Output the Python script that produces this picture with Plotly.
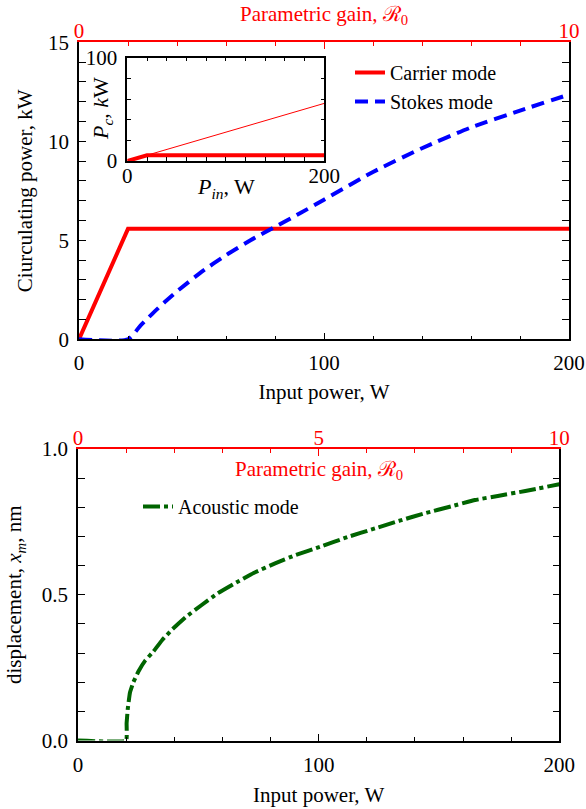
import plotly.graph_objects as go

# ---------------- data ----------------
P_carrier = [0, 20, 200]
carrier_kW = [0, 5.58, 5.58]

P_stokes = [0, 20, 25, 30, 35, 40, 50, 60, 70, 80, 90, 100, 120, 140, 160, 180, 200]
stokes_kW = [0, 0, 0.68, 1.30, 1.88, 2.42, 3.40, 4.25, 5.00, 5.68, 6.35, 7.05, 8.45, 9.65, 10.70, 11.55, 12.36]

P_inset_lin = [0, 200]
inset_linear_kW = [0, 55.8]

P_acoustic = [0, 20, 20.2, 20.7, 21.6, 23, 25.1, 28, 31.3, 35, 39, 45, 51.4, 58, 65.3, 73, 81.9,
              90, 100.6, 112, 123.5, 134, 144.3, 155, 165, 175, 185.9, 200]
acoustic_nm = [0, 0, 0.06, 0.11, 0.165, 0.20, 0.237, 0.275, 0.305, 0.345, 0.38, 0.425, 0.465, 0.505,
               0.54, 0.575, 0.608, 0.635, 0.665, 0.698, 0.728, 0.755, 0.78, 0.803, 0.825, 0.84, 0.856, 0.879]

gain_range = [0, 10]          # parametric gain axis range (top axes)
x_tick_vals = [0, 100, 200]
x_tick_text = ["0", "100", "200"]
y1_tick_vals = [0, 5, 10, 15]
gain_tick_vals = [0, 5, 10]
gain_tick_text_top = ["0", "", "10"]
gain_tick_text_bottom = ["0", "5", "10"]
y4_tick_vals = [0, 0.5, 1.0]
y4_tick_text = ["0.0", "0.5", "1.0"]

# ---------------- layout helpers ----------------
W, H = 586, 809
def fx(p):
    return p / W
def fy(p):
    return 1 - p / H

FONT = "Liberation Serif, 'Times New Roman', 'DejaVu Serif', serif"
RED = "#ff0000"
BLUE = "#0000ff"
GREEN = "#006400"
FS = 21

fig = go.Figure()

fig.add_trace(go.Scatter(x=P_carrier, y=carrier_kW, mode="lines", name="Carrier mode",
                         line=dict(color=RED, width=4), xaxis="x", yaxis="y", legend="legend"))
fig.add_trace(go.Scatter(x=P_stokes, y=stokes_kW, mode="lines", name="Stokes mode",
                         line=dict(color=BLUE, width=4, dash="13px,7px", shape="spline", smoothing=0.6),
                         xaxis="x", yaxis="y", legend="legend"))
fig.add_trace(go.Scatter(x=P_inset_lin, y=inset_linear_kW, mode="lines", showlegend=False,
                         line=dict(color=RED, width=1), xaxis="x3", yaxis="y3"))
fig.add_trace(go.Scatter(x=P_carrier, y=carrier_kW, mode="lines", showlegend=False,
                         line=dict(color=RED, width=4), xaxis="x3", yaxis="y3"))
fig.add_trace(go.Scatter(x=P_acoustic, y=acoustic_nm, mode="lines", name="Acoustic mode",
                         line=dict(color=GREEN, width=4, dash="17px,4px,4px,4px", shape="spline", smoothing=0.3),
                         xaxis="x4", yaxis="y4", legend="legend2"))
# invisible helpers so that the red parametric-gain axes are drawn
fig.add_trace(go.Scatter(x=gain_range, y=[None, None], mode="lines", showlegend=False,
                         hoverinfo="skip", xaxis="x2", yaxis="y"))
fig.add_trace(go.Scatter(x=gain_range, y=[None, None], mode="lines", showlegend=False,
                         hoverinfo="skip", xaxis="x5", yaxis="y4"))

common = dict(showgrid=False, zeroline=False, showline=True, linewidth=1.5, ticks="inside",
              automargin=False,
              tickfont=dict(family=FONT, size=FS, color="black"), ticklabelstandoff=4)
red_common = {**common, "tickfont": dict(family=FONT, size=FS, color=RED), "ticklabelstandoff": -6}
inset_x_common = {**common, "ticklabelstandoff": -5}

top_dom_x = [fx(79), fx(569)]
top_dom_y = [fy(339.3), fy(42.3)]
bot_dom_x = [fx(78), fx(559.3)]
bot_dom_y = [fy(740.6), fy(449)]
ins_dom_x = [fx(127.3), fx(324.3)]
ins_dom_y = [fy(161), fy(57.7)]

fig.update_layout(
    template="none",
    width=W, height=H, margin=dict(l=0, r=0, t=0, b=0, autoexpand=False),
    paper_bgcolor="white", plot_bgcolor="white",
    font=dict(family=FONT, size=FS, color="black"),
    showlegend=True,
    xaxis=dict(domain=top_dom_x, anchor="y", range=[0, 200], tickmode="array",
               tickvals=x_tick_vals, ticktext=x_tick_text, ticklen=7, linecolor="black",
               tickcolor="black",
               minor=dict(dtick=20, ticks="inside", ticklen=4, tickcolor="black"),
               title=dict(text="Input power, W", font=dict(family=FONT, size=FS), standoff=10),
               **common),
    xaxis2=dict(overlaying="x", anchor="y", side="top", range=gain_range, tickmode="array",
                tickvals=gain_tick_vals, ticktext=gain_tick_text_top, ticklen=7,
                linecolor=RED, tickcolor=RED,
                minor=dict(dtick=1, ticks="inside", ticklen=4, tickcolor=RED),
                **red_common),
    yaxis=dict(domain=top_dom_y, anchor="x", range=[0, 15], tickmode="array",
               tickvals=y1_tick_vals, ticklen=7, linecolor="black", tickcolor="black",
               mirror="allticks",
               minor=dict(dtick=1, ticks="inside", ticklen=4, tickcolor="black"),
               title=dict(text="Ciurculating power, kW", font=dict(family=FONT, size=FS), standoff=10),
               **common),
    xaxis3=dict(domain=ins_dom_x, anchor="y3", range=[0, 200], tickmode="array",
                tickvals=[0, 200], ticktext=["0", "200"], ticklen=4, linecolor="black",
                tickcolor="black", mirror="allticks",
                minor=dict(dtick=20, ticks="inside", ticklen=4, tickcolor="black"),
                **inset_x_common),
    yaxis3=dict(domain=ins_dom_y, anchor="x3", range=[0, 100], tickmode="array",
                tickvals=[0, 100], ticktext=["0", "100"], ticklen=4, linecolor="black",
                tickcolor="black", mirror="allticks",
                minor=dict(dtick=20, ticks="inside", ticklen=4, tickcolor="black"),
                **common),
    xaxis4=dict(domain=bot_dom_x, anchor="y4", range=[0, 200], tickmode="array",
                tickvals=x_tick_vals, ticktext=x_tick_text, ticklen=7, linecolor="black",
                tickcolor="black",
                minor=dict(dtick=20, ticks="inside", ticklen=4, tickcolor="black"),
                title=dict(text="Input power, W", font=dict(family=FONT, size=FS), standoff=12),
                **common),
    xaxis5=dict(overlaying="x4", anchor="y4", side="top", range=gain_range, tickmode="array",
                tickvals=gain_tick_vals, ticktext=gain_tick_text_bottom, ticklen=7,
                linecolor=RED, tickcolor=RED,
                minor=dict(dtick=1, ticks="inside", ticklen=4, tickcolor=RED),
                **red_common),
    yaxis4=dict(domain=bot_dom_y, anchor="x4", range=[0, 1.0], tickmode="array",
                tickvals=y4_tick_vals, ticktext=y4_tick_text, ticklen=7, linecolor="black",
                tickcolor="black", mirror="allticks",
                minor=dict(dtick=0.1, ticks="inside", ticklen=4, tickcolor="black"),
                title=dict(text="displacement, <i>x<sub>m</sub></i>, nm",
                           font=dict(family=FONT, size=FS), standoff=14),
                **common),
    legend=dict(x=fx(350), y=fy(53), xanchor="left", yanchor="top", bgcolor="rgba(0,0,0,0)",
                font=dict(family=FONT, size=20), tracegroupgap=0, borderwidth=0),
    legend2=dict(x=fx(138), y=fy(487), xanchor="left", yanchor="top", bgcolor="rgba(0,0,0,0)",
                 font=dict(family=FONT, size=20), borderwidth=0),
    annotations=[
        dict(text="Parametric gain, ℛ<sub>0</sub>", xref="paper", yref="paper",
             x=fx(324), y=fy(15), showarrow=False, xanchor="center", yanchor="middle",
             font=dict(family=FONT, size=FS, color=RED)),
        dict(text="Parametric gain, ℛ<sub>0</sub>", xref="paper", yref="paper",
             x=fx(318.5), y=fy(470), showarrow=False, xanchor="center", yanchor="middle",
             font=dict(family=FONT, size=FS, color=RED)),
        dict(text="<i>P<sub>in</sub></i>, W", xref="paper", yref="paper",
             x=fx(226), y=fy(188), showarrow=False, xanchor="center", yanchor="middle",
             font=dict(family=FONT, size=22, color="black")),
        dict(text="<i>P<sub>c</sub></i>, <i>k</i>W", xref="paper", yref="paper",
             x=fx(102), y=fy(109), showarrow=False, xanchor="center", yanchor="middle",
             textangle=-90, font=dict(family=FONT, size=22, color="black")),
    ],
)

fig.write_html("out.html")
